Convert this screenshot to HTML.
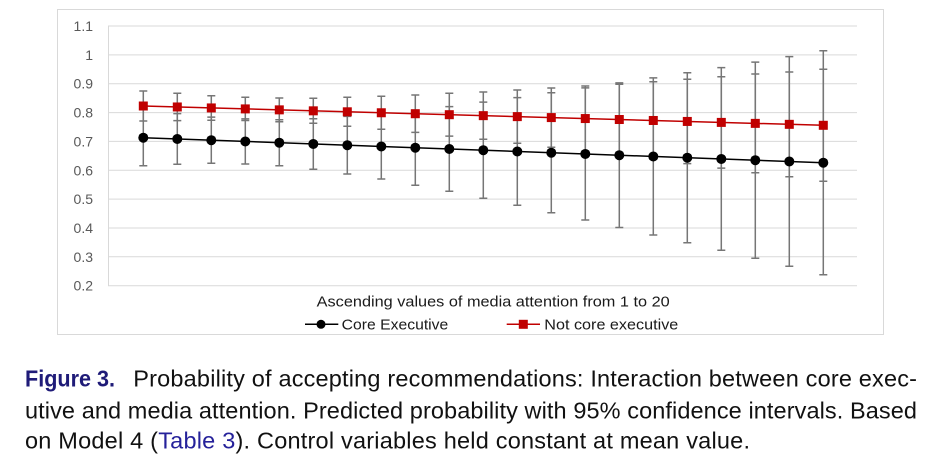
<!DOCTYPE html>
<html>
<head>
<meta charset="utf-8">
<style>
  html,body{margin:0;padding:0;background:#fff;}
  body{width:933px;height:466px;overflow:hidden;}
  svg{display:block;}
</style>
</head>
<body>
<svg width="933" height="466" viewBox="0 0 933 466" xmlns="http://www.w3.org/2000/svg">
  <rect x="0" y="0" width="933" height="466" fill="#fff"/>
  <!-- chart border -->
  <rect x="57.5" y="9.5" width="826" height="325" fill="#fff" stroke="#d9d9d9" stroke-width="1"/>
  <!-- gridlines -->
  <g stroke="#d9d9d9" stroke-width="1">
    <line x1="108" y1="26" x2="857" y2="26"/>
    <line x1="108" y1="54.9" x2="857" y2="54.9"/>
    <line x1="108" y1="83.7" x2="857" y2="83.7"/>
    <line x1="108" y1="112.6" x2="857" y2="112.6"/>
    <line x1="108" y1="141.4" x2="857" y2="141.4"/>
    <line x1="108" y1="170.3" x2="857" y2="170.3"/>
    <line x1="108" y1="199.1" x2="857" y2="199.1"/>
    <line x1="108" y1="228" x2="857" y2="228"/>
    <line x1="108" y1="256.8" x2="857" y2="256.8"/>
    <line x1="108" y1="285.7" x2="857" y2="285.7"/>
    <line x1="108.5" y1="26" x2="108.5" y2="285.7"/>
  </g>
  <!-- y labels -->
  <g font-family="Liberation Sans, sans-serif" font-size="14" fill="#595959" text-anchor="end">
    <text x="93" y="31">1.1</text>
    <text x="93" y="59.9">1</text>
    <text x="93" y="88.7">0.9</text>
    <text x="93" y="117.6">0.8</text>
    <text x="93" y="146.4">0.7</text>
    <text x="93" y="175.3">0.6</text>
    <text x="93" y="204.1">0.5</text>
    <text x="93" y="233">0.4</text>
    <text x="93" y="261.8">0.3</text>
    <text x="93" y="290.7">0.2</text>
  </g>

  <!-- axis title -->
  <text x="316.7" y="306.7" font-family="Liberation Sans, sans-serif" font-size="14.5" fill="#1a1a1a" textLength="353" lengthAdjust="spacingAndGlyphs">Ascending values of media attention from 1 to 20</text>
  <!-- legend -->
  <line x1="305" y1="324.3" x2="338.3" y2="324.3" stroke="#000" stroke-width="1.5"/>
  <circle cx="321" cy="324.3" r="4.5" fill="#000"/>
  <text x="341.7" y="329.5" font-family="Liberation Sans, sans-serif" font-size="14.5" fill="#1a1a1a" textLength="106.6" lengthAdjust="spacingAndGlyphs">Core Executive</text>
  <line x1="506.7" y1="324.3" x2="540" y2="324.3" stroke="#c00000" stroke-width="1.5"/>
  <rect x="518.8" y="319.8" width="9" height="9" fill="#c00000"/>
  <text x="544.3" y="329.5" font-family="Liberation Sans, sans-serif" font-size="14.5" fill="#1a1a1a" textLength="134" lengthAdjust="spacingAndGlyphs">Not core executive</text>

  <!-- caption -->
  <g font-family="Liberation Sans, sans-serif" font-size="23.5" fill="#111111">
    <text x="25" y="386.7" font-weight="bold" fill="#1f1b78" textLength="90" lengthAdjust="spacingAndGlyphs">Figure 3.</text>
    <text x="133.3" y="386.7" textLength="783.7" lengthAdjust="spacing">Probability of accepting recommendations: Interaction between core exec-</text>
    <text x="25" y="418.3" textLength="892" lengthAdjust="spacing">utive and media attention. Predicted probability with 95% confidence intervals. Based</text>
    <text x="25" y="448.3" textLength="725" lengthAdjust="spacing">on Model 4 (<tspan fill="#25219a">Table 3</tspan>). Control variables held constant at mean value.</text>
  </g>

  <g stroke="#767676" stroke-width="1.5" fill="none">
    <!-- black error bars -->
    <path d="
M143.3 109.7V165.7M139.3 109.7H147.3M139.3 165.7H147.3
M177.3 113.6V164.3M173.3 113.6H181.3M173.3 164.3H181.3
M211.3 117.1V163.3M207.3 117.1H215.3M207.3 163.3H215.3
M245.3 118.9V164M241.3 118.9H249.3M241.3 164H249.3
M279.3 119.7V165.7M275.3 119.7H283.3M275.3 165.7H283.3
M313.3 118.7V169.2M309.3 118.7H317.3M309.3 169.2H317.3
M347.3 116.4V174M343.3 116.4H351.3M343.3 174H351.3
M381.3 113.9V179M377.3 113.9H385.3M377.3 179H385.3
M415.3 110.1V185.3M411.3 110.1H419.3M411.3 185.3H419.3
M449.3 106.6V191.3M445.3 106.6H453.3M445.3 191.3H453.3
M483.3 102.1V198.3M479.3 102.1H487.3M479.3 198.3H487.3
M517.3 97.6V205.3M513.3 97.6H521.3M513.3 205.3H521.3
M551.3 92.7V212.7M547.3 92.7H555.3M547.3 212.7H555.3
M585.3 87.9V220M581.3 87.9H589.3M581.3 220H589.3
M619.3 82.9V227.5M615.3 82.9H623.3M615.3 227.5H623.3
M653.3 77.9V235M649.3 77.9H657.3M649.3 235H657.3
M687.3 72.7V242.7M683.3 72.7H691.3M683.3 242.7H691.3
M721.3 67.6V250.3M717.3 67.6H725.3M717.3 250.3H725.3
M755.3 62.1V258.3M751.3 62.1H759.3M751.3 258.3H759.3
M789.3 56.6V266.3M785.3 56.6H793.3M785.3 266.3H793.3
M823.3 50.7V274.7M819.3 50.7H827.3M819.3 274.7H827.3"/>
    <!-- red error bars -->
    <path d="
M143.3 91V121M139.3 91H147.3M139.3 121H147.3
M177.3 93.3V120.6M173.3 93.3H181.3M173.3 120.6H181.3
M211.3 95.7V120.2M207.3 95.7H215.3M207.3 120.2H215.3
M245.3 97.3V120.5M241.3 97.3H249.3M241.3 120.5H249.3
M279.3 98V121.7M275.3 98H283.3M275.3 121.7H283.3
M313.3 98.3V123.3M309.3 98.3H317.3M309.3 123.3H317.3
M347.3 97.3V126.3M343.3 97.3H351.3M343.3 126.3H351.3
M381.3 96.3V129.2M377.3 96.3H385.3M377.3 129.2H385.3
M415.3 95V132.4M411.3 95H419.3M411.3 132.4H419.3
M449.3 93.3V136.1M445.3 93.3H453.3M445.3 136.1H453.3
M483.3 92V139.3M479.3 92H487.3M479.3 139.3H487.3
M517.3 90V143.2M513.3 90H521.3M513.3 143.2H521.3
M551.3 88V147.2M547.3 88H555.3M547.3 147.2H555.3
M585.3 86V151.1M581.3 86H589.3M581.3 151.1H589.3
M619.3 84.3V154.7M615.3 84.3H623.3M615.3 154.7H623.3
M653.3 81.7V159.3M649.3 81.7H657.3M649.3 159.3H657.3
M687.3 79.3V163.6M683.3 79.3H691.3M683.3 163.6H691.3
M721.3 76.7V168.1M717.3 76.7H725.3M717.3 168.1H725.3
M755.3 74V172.7M751.3 74H759.3M751.3 172.7H759.3
M789.3 72V176.7M785.3 72H793.3M785.3 176.7H793.3
M823.3 69.3V181.3M819.3 69.3H827.3M819.3 181.3H827.3"/>
  </g>
  <!-- series lines -->
  <line x1="143.3" y1="137.7" x2="823.3" y2="162.7" stroke="#000" stroke-width="1.5"/>
  <line x1="143.3" y1="106" x2="823.3" y2="125.3" stroke="#c00000" stroke-width="1.5"/>
  <!-- black markers -->
  <g fill="#000">
    <circle cx="143.3" cy="137.7" r="5"/>
    <circle cx="177.3" cy="138.95" r="5"/>
    <circle cx="211.3" cy="140.2" r="5"/>
    <circle cx="245.3" cy="141.45" r="5"/>
    <circle cx="279.3" cy="142.7" r="5"/>
    <circle cx="313.3" cy="143.95" r="5"/>
    <circle cx="347.3" cy="145.2" r="5"/>
    <circle cx="381.3" cy="146.45" r="5"/>
    <circle cx="415.3" cy="147.7" r="5"/>
    <circle cx="449.3" cy="148.95" r="5"/>
    <circle cx="483.3" cy="150.2" r="5"/>
    <circle cx="517.3" cy="151.45" r="5"/>
    <circle cx="551.3" cy="152.7" r="5"/>
    <circle cx="585.3" cy="153.95" r="5"/>
    <circle cx="619.3" cy="155.2" r="5"/>
    <circle cx="653.3" cy="156.45" r="5"/>
    <circle cx="687.3" cy="157.7" r="5"/>
    <circle cx="721.3" cy="158.95" r="5"/>
    <circle cx="755.3" cy="160.2" r="5"/>
    <circle cx="789.3" cy="161.45" r="5"/>
    <circle cx="823.3" cy="162.7" r="5"/>
  </g>
  <!-- red markers -->
  <g fill="#c00000">
    <rect x="138.8" y="101.5" width="9" height="9"/>
    <rect x="172.8" y="102.47" width="9" height="9"/>
    <rect x="206.8" y="103.43" width="9" height="9"/>
    <rect x="240.8" y="104.4" width="9" height="9"/>
    <rect x="274.8" y="105.36" width="9" height="9"/>
    <rect x="308.8" y="106.33" width="9" height="9"/>
    <rect x="342.8" y="107.29" width="9" height="9"/>
    <rect x="376.8" y="108.26" width="9" height="9"/>
    <rect x="410.8" y="109.22" width="9" height="9"/>
    <rect x="444.8" y="110.19" width="9" height="9"/>
    <rect x="478.8" y="111.15" width="9" height="9"/>
    <rect x="512.8" y="112.12" width="9" height="9"/>
    <rect x="546.8" y="113.08" width="9" height="9"/>
    <rect x="580.8" y="114.05" width="9" height="9"/>
    <rect x="614.8" y="115.01" width="9" height="9"/>
    <rect x="648.8" y="115.98" width="9" height="9"/>
    <rect x="682.8" y="116.94" width="9" height="9"/>
    <rect x="716.8" y="117.9" width="9" height="9"/>
    <rect x="750.8" y="118.87" width="9" height="9"/>
    <rect x="784.8" y="119.83" width="9" height="9"/>
    <rect x="818.8" y="120.8" width="9" height="9"/>
  </g>
</svg>
</body>
</html>
